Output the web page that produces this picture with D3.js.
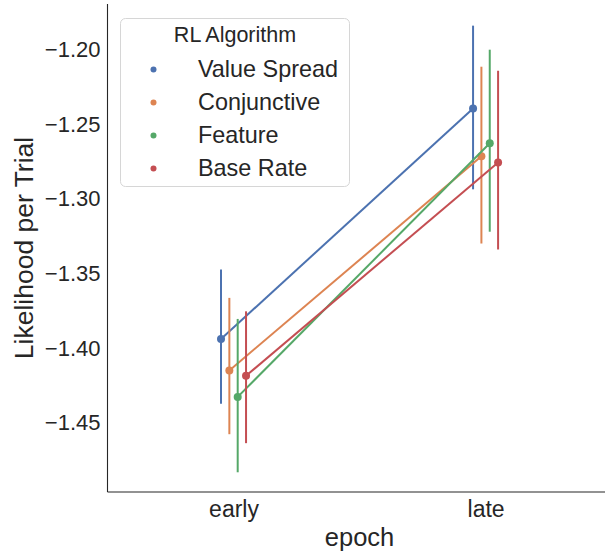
<!DOCTYPE html>
<html>
<head>
<meta charset="utf-8">
<script src="https://cdn.jsdelivr.net/npm/d3@7"></script>
<style>
  html, body { margin: 0; padding: 0; background: #fff; }
  svg { display: block; }
  text { font-family: "Liberation Sans", Arial, sans-serif; fill: #262626; }
</style>
</head>
<body>
<svg id="chart" width="605" height="552"></svg>
<script>
const categories = ["early", "late"];
const series = ["Value Spread", "Conjunctive", "Feature", "Base Rate"];
const colors = ["#4c72b0", "#dd8452", "#55a868", "#c44e52"];
// mean likelihood per trial [early, late] per series
const meanValueSpread = [-1.3938, -1.2395];
const meanConjunctive = [-1.4149, -1.2715];
const meanFeature     = [-1.4326, -1.2628];
const meanBaseRate    = [-1.4185, -1.2757];
// confidence intervals [low, high] for [early, late]
const ciValueSpread = [[-1.4372, -1.3473], [-1.2936, -1.1840]];
const ciConjunctive = [[-1.4576, -1.3663], [-1.3299, -1.2115]];
const ciFeature     = [[-1.4831, -1.3804], [-1.3220, -1.2001]];
const ciBaseRate    = [[-1.4636, -1.3753], [-1.3339, -1.2142]];
const yTicks = [-1.20, -1.25, -1.30, -1.35, -1.40, -1.45];

const means = [meanValueSpread, meanConjunctive, meanFeature, meanBaseRate];
const cis = [ciValueSpread, ciConjunctive, ciFeature, ciBaseRate];

const svg = d3.select("#chart");
const pLeft = 107.5, pRight = 611.6, pTop = 4, pBottom = 492;

const x = d3.scaleLinear().domain([-0.5, 1.5]).range([pLeft, pRight]);
const y = d3.scaleLinear().domain([-1.4963, -1.1695]).range([pBottom, pTop]);
const dodgeStep = 0.0331;
const off = i => (i - (series.length - 1) / 2) * dodgeStep;

// marks
series.forEach((s, i) => {
  const g = svg.append("g");
  const pts = categories.map((c, j) => ({ x: x(j + off(i)), y: y(means[i][j]) }));
  g.append("path")
    .attr("d", d3.line().x(d => d.x).y(d => d.y)(pts))
    .attr("fill", "none").attr("stroke", colors[i]).attr("stroke-width", 2);
  categories.forEach((c, j) => {
    g.append("line")
      .attr("x1", x(j + off(i))).attr("x2", x(j + off(i)))
      .attr("y1", y(cis[i][j][0])).attr("y2", y(cis[i][j][1]))
      .attr("stroke", colors[i]).attr("stroke-width", 2);
  });
  g.selectAll("circle").data(pts).join("circle")
    .attr("cx", d => d.x).attr("cy", d => d.y).attr("r", 4)
    .attr("fill", colors[i]);
});

// axes (spines, no ticks)
const yAxis = d3.axisLeft(y).tickValues(yTicks).tickSize(0).tickPadding(7)
  .tickFormat(d => d3.format(".2f")(d).replace("-", "\u2212"));
const gy = svg.append("g").attr("transform", `translate(${pLeft},0)`).call(yAxis);
gy.select(".domain").attr("stroke", "#262626").attr("stroke-width", 1.1)
  .attr("d", `M0,${pTop}V${pBottom}`);
gy.selectAll("text").style("font-size", "22px").attr("fill", "#262626")
  .attr("font-family", "Liberation Sans, Arial, sans-serif");

const xAxis = d3.axisBottom(x).tickValues([0, 1]).tickSize(0).tickPadding(9)
  .tickFormat(d => categories[d]);
const gx = svg.append("g").attr("transform", `translate(0,${pBottom})`).call(xAxis);
gx.select(".domain").attr("stroke", "#262626").attr("stroke-width", 1.1)
  .attr("d", `M${pLeft},0H605`);
gx.selectAll("text").style("font-size", "23px").attr("fill", "#262626")
  .attr("font-family", "Liberation Sans, Arial, sans-serif");

// axis labels
svg.append("text").attr("x", (pLeft + pRight) / 2).attr("y", 546)
  .attr("text-anchor", "middle").style("font-size", "25.5px").text("epoch");
svg.append("text")
  .attr("transform", `translate(33,${(pTop + pBottom) / 2}) rotate(-90)`)
  .attr("text-anchor", "middle").style("font-size", "26.5px").text("Likelihood per Trial");

// legend
const lg = svg.append("g");
lg.append("rect").attr("x", 120.5).attr("y", 18.5).attr("width", 229).attr("height", 168)
  .attr("rx", 5).attr("fill", "rgba(255,255,255,0.8)").attr("stroke", "#d6d6d6").attr("stroke-width", 1);
lg.append("text").attr("x", 235).attr("y", 42).attr("text-anchor", "middle")
  .style("font-size", "21.5px").text("RL Algorithm");
series.forEach((s, i) => {
  const base = 76.5 + i * 33;
  lg.append("circle").attr("cx", 153.5).attr("cy", base - 7).attr("r", 3).attr("fill", colors[i]);
  lg.append("text").attr("x", 198).attr("y", base).style("font-size", "23.4px").text(s);
});
</script>
</body>
</html>
